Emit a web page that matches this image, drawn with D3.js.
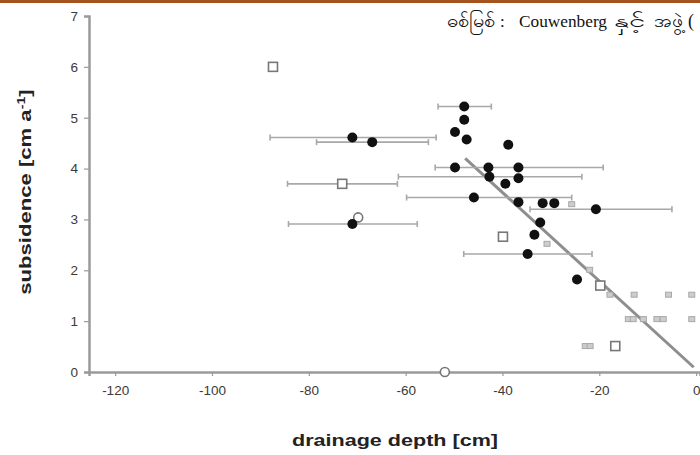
<!DOCTYPE html>
<html>
<head>
<meta charset="utf-8">
<script src="https://cdn.jsdelivr.net/npm/d3@7"></script>
<style>
  body { margin: 0; background: #fff; }
  svg { display: block; }
</style>
</head>
<body>
<script>
// filled circles (black) with optional horizontal error range
var dotX  = [-71.0, -66.9, -47.9, -47.9, -49.8, -47.4, -38.8, -49.8, -42.9, -36.7, -42.7, -36.7, -39.4, -45.9, -36.7, -31.7, -29.3, -20.7, -71.0, -32.2, -33.4, -34.8, -24.6];
var dotY  = [4.61, 4.52, 5.22, 4.96, 4.72, 4.57, 4.47, 4.02, 4.02, 4.02, 3.84, 3.81, 3.70, 3.43, 3.34, 3.32, 3.32, 3.20, 2.91, 2.94, 2.70, 2.32, 1.82];
var dotLo = [-88.0, -78.4, -53.3, null, null, null, null, null, null, -53.9, -61.5, null, null, -59.8, null, null, null, -34.3, -84.2, null, null, -48.0, null];
var dotHi = [-53.7, -55.3, -42.3, null, null, null, null, null, null, -19.2, -23.6, null, null, -25.7, null, null, null, -5.0, -57.6, null, null, -21.5, null];

// open squares
var sqX  = [-87.4, -73.1, -39.9, -19.8, -16.7];
var sqY  = [6.0, 3.70, 2.66, 1.70, 0.51];
var sqLo = [null, -84.4, null, null, null];
var sqHi = [null, -61.7, null, null, null];

// open circles
var ringX = [-69.8, -51.9];
var ringY = [3.04, 0.0];

// small grey markers
var smallX = [-25.7, -30.8, -22.0, -17.8, -12.8, -5.7, -0.9, -14.0, -13.0, -10.9, -8.1, -6.8, -0.9, -22.9, -21.9];
var smallY = [3.30, 2.52, 2.01, 1.52, 1.52, 1.52, 1.52, 1.04, 1.04, 1.04, 1.04, 1.04, 1.04, 0.51, 0.51];

// regression line
var regX = [-47.7, -0.5];
var regSlope = -0.087, regIntercept = 0.05;

var xTicks = [-120, -100, -80, -60, -40, -20, 0];
var yTicks = [0, 1, 2, 3, 4, 5, 6, 7];

// source note pieces
var noteParts = ["ဓစ်မြစ်", ":", "Couwenberg", "နှင့်", "အဖွဲ့", "("];
var noteX = [447, 500, 519, 614, 654, 688];
var noteW = [48, null, 88, 31, 29, null];

var width = 700, height = 455;

var svg = d3.select("body").append("svg")
    .attr("width", width)
    .attr("height", height);

// brown rule on top
svg.append("rect")
    .attr("x", 0).attr("y", 0)
    .attr("width", width).attr("height", 3)
    .attr("fill", "#a4521e");

var x = d3.scaleLinear().domain([-125.4, 0.8]).range([89, 700]);
var y = d3.scaleLinear().domain([0, 7]).range([372, 16]);

var grey = "#9a9a9a";

// axes
var xAxis = svg.append("g")
    .attr("transform", "translate(0," + y(0) + ")")
    .call(d3.axisBottom(x).tickValues(xTicks).tickSize(4).tickPadding(9)
        .tickFormat(function(d){ return String(d); }));
var yAxis = svg.append("g")
    .attr("transform", "translate(" + x(-125.4) + ",0)")
    .call(d3.axisLeft(y).tickValues(yTicks).tickSize(5).tickPadding(6)
        .tickFormat(function(d){ return String(d); }));

[xAxis, yAxis].forEach(function(a){
    a.select(".domain").attr("stroke", grey).attr("stroke-width", 2.5);
    a.selectAll(".tick line").attr("stroke", grey).attr("stroke-width", 1.2);
    a.selectAll(".tick text")
        .attr("fill", "#3a3a3a")
        .style("font-family", "'Liberation Sans', Arial, sans-serif")
        .style("font-size", "13.5px");
});

// regression line
svg.append("line")
    .attr("x1", x(regX[0])).attr("y1", y(regSlope * regX[0] + regIntercept))
    .attr("x2", x(regX[1])).attr("y2", y(regSlope * regX[1] + regIntercept))
    .attr("stroke", "#8e8e8e")
    .attr("stroke-width", 3);

// error bars
function errbars(xs, ys, lo, hi){
    var d = xs.map(function(v, i){ return {y: ys[i], lo: lo[i], hi: hi[i]}; })
        .filter(function(e){ return e.lo !== null; });
    var g = svg.append("g")
        .attr("stroke", "#a8a8a8")
        .attr("stroke-width", 1.6);
    g.selectAll("line.bar").data(d).enter().append("line")
        .attr("x1", function(e){ return x(e.lo); })
        .attr("x2", function(e){ return x(e.hi); })
        .attr("y1", function(e){ return y(e.y); })
        .attr("y2", function(e){ return y(e.y); });
    g.selectAll("line.capl").data(d).enter().append("line")
        .attr("x1", function(e){ return x(e.lo); })
        .attr("x2", function(e){ return x(e.lo); })
        .attr("y1", function(e){ return y(e.y) - 3; })
        .attr("y2", function(e){ return y(e.y) + 3; });
    g.selectAll("line.capr").data(d).enter().append("line")
        .attr("x1", function(e){ return x(e.hi); })
        .attr("x2", function(e){ return x(e.hi); })
        .attr("y1", function(e){ return y(e.y) - 3; })
        .attr("y2", function(e){ return y(e.y) + 3; });
}
errbars(dotX, dotY, dotLo, dotHi);
errbars(sqX, sqY, sqLo, sqHi);

// small grey markers
svg.append("g").selectAll("rect").data(smallX).enter().append("rect")
    .attr("x", function(d){ return x(d) - 3; })
    .attr("y", function(d, i){ return y(smallY[i]) - 2.5; })
    .attr("width", 6).attr("height", 5)
    .attr("fill", "#cdcdcd")
    .attr("stroke", "#a8a8a8")
    .attr("stroke-width", 1);

// open squares
svg.append("g").selectAll("rect").data(sqX).enter().append("rect")
    .attr("x", function(d){ return x(d) - 4.5; })
    .attr("y", function(d, i){ return y(sqY[i]) - 4.5; })
    .attr("width", 9).attr("height", 9)
    .attr("fill", "#fff")
    .attr("stroke", "#777")
    .attr("stroke-width", 1.6);

// open circles
svg.append("g").selectAll("circle").data(ringX).enter().append("circle")
    .attr("cx", function(d){ return x(d); })
    .attr("cy", function(d, i){ return y(ringY[i]); })
    .attr("r", 4.5)
    .attr("fill", "#fff")
    .attr("stroke", "#777")
    .attr("stroke-width", 1.6);

// filled circles
svg.append("g").selectAll("circle").data(dotX).enter().append("circle")
    .attr("cx", function(d){ return x(d); })
    .attr("cy", function(d, i){ return y(dotY[i]); })
    .attr("r", 5)
    .attr("fill", "#111");

// axis titles
svg.append("text")
    .attr("x", 395).attr("y", 446)
    .attr("text-anchor", "middle")
    .attr("textLength", 206).attr("lengthAdjust", "spacingAndGlyphs")
    .style("font-family", "'Liberation Sans', Arial, sans-serif")
    .style("font-weight", "bold")
    .style("font-size", "17px")
    .attr("fill", "#222")
    .text("drainage depth [cm]");

var yl = svg.append("text")
    .attr("transform", "translate(31,192) rotate(-90) scale(1.3,1)")
    .attr("text-anchor", "middle")
    .style("font-family", "'Liberation Sans', Arial, sans-serif")
    .style("font-weight", "bold")
    .style("font-size", "17px")
    .attr("fill", "#222");
yl.append("tspan").text("subsidence [cm a");
yl.append("tspan").attr("dy", -6).style("font-size", "11px").text("-1");
yl.append("tspan").attr("dy", 6).text("]");

// source note
svg.append("text")
    .attr("y", 27)
    .style("font-family", "'Liberation Serif', 'Times New Roman', serif")
    .attr("fill", "#111")
    .selectAll("tspan").data(noteParts).enter().append("tspan")
    .attr("x", function(d, i){ return noteX[i]; })
    .attr("textLength", function(d, i){ return noteW[i]; })
    .attr("lengthAdjust", function(d, i){ return noteW[i] ? "spacingAndGlyphs" : null; })
    .style("font-size", function(d, i){ return (i === 2 || i === 1) ? "17px" : "18px"; })
    .text(function(d){ return d; });
</script>
</body>
</html>
